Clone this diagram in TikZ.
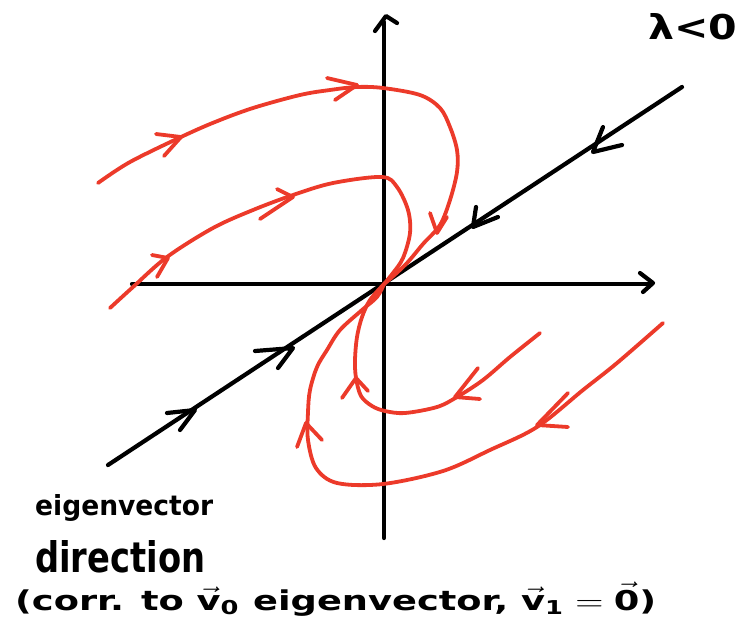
\documentclass[tikz,border=0pt]{standalone}
\usepackage{fontspec}
\setmainfont{DejaVu Sans}
\usetikzlibrary{arrows.meta}
\definecolor{pen}{RGB}{236,58,42}
\begin{document}
\begin{tikzpicture}[x=1pt,y=-1pt,
  ink/.style={line width=4.2pt,line cap=round,line join=round,black},
  redink/.style={line width=3.8pt,line cap=round,line join=round,pen},
  curve/.style={redink,smooth,tension=0.55},
  lbl/.style={inner sep=0pt,anchor=base west,font=\bfseries}]
\useasboundingbox (0,0) rectangle (755,633);
% axes and eigenvector line
\coordinate (O) at (384,284);
\coordinate (ytop) at (384,22);
\coordinate (ybot) at (384,538);
\coordinate (xl) at (132,284);
\coordinate (xr) at (651,284);
\coordinate (e1) at (108,465);
\coordinate (e2) at (682,87);
\draw[ink] (ybot) -- (ytop);
\draw[ink] (375,31) -- (386,16) -- (397,23);
\draw[ink] (xl) -- (xr);
\draw[ink] (640,273) -- (653,283) -- (643,292);
\draw[ink] (e1) -- (e2);
% arrowheads on eigenvector line
\draw[ink] (167,413) -- (195,410) -- (180,430);
\draw[ink] (255,351) -- (293,348) -- (278,368);
\draw[ink] (476,207) -- (473,227) -- (498,217);
\draw[ink] (603,127) -- (593,152) -- (622,145);
% red trajectories
\draw[curve] plot coordinates {(98,183) (130,162) (181,137) (215,122) (253,108) (300,95) (330,90) (357,87) (383,88) (420,95) (440,108) (450,127) (457,150) (457,172) (450,200) (440,225) (423,244) (407,263) (390,279) (O)};
\draw[curve] plot coordinates {(110,308) (133,287) (167,257) (213,228) (253,210) (293,195) (333,183) (382,177) (397,187) (408,210) (410,233) (403,258) (393,273) (O)};
\draw[curve] plot coordinates {(O) (370,300) (362,317) (357,337) (355,360) (356,378) (361,396) (372,406) (385,411) (405,413) (437,407) (457,397) (483,380) (510,357) (540,333)};
\draw[curve] plot coordinates {(O) (377,297) (362,310) (340,330) (327,350) (317,367) (310,390) (308,412) (308,440) (316,468) (337,483) (383,484) (443,471) (490,450) (537,427) (583,390) (617,363) (663,323)};
% red arrowheads
\draw[redink] (156,134) -- (181,137) -- (164,156);
\draw[redink] (327,78) -- (357,85) -- (335,100);
\draw[redink] (430,213) -- (437,233) -- (447,217);
\draw[redink] (152,255) -- (168,258) -- (157,277);
\draw[redink] (277,189) -- (293,197) -- (260,219);
\draw[redink] (342,398) -- (356,378) -- (368,391);
\draw[redink] (478,368) -- (455,397) -- (480,399);
\draw[redink] (568,393) -- (537,425) -- (568,427);
\draw[redink] (297,447) -- (306,423) -- (322,440);
% labels
\node[lbl] (lam) at (648,39) {\resizebox{89pt}{26pt}{λ<0}};
\node[lbl] (w1) at (35,515) {\resizebox{178pt}{21pt}{eigenvector}};
\node[lbl] (w2) at (35,572) {\resizebox{170pt}{32pt}{direction}};
\node[lbl] (w3) at (15,610) {\resizebox{641pt}{28pt}{(corr. to $\vec{\mathbf{v}}_{\mathbf{0}}$ eigenvector, $\vec{\mathbf{v}}_{\mathbf{1}}=\vec{\mathbf{0}}$)}};
\end{tikzpicture}
\end{document}
